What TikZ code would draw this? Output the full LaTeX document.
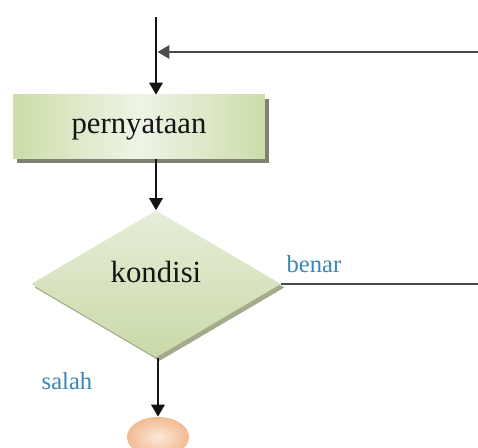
\documentclass[tikz,border=0pt]{standalone}
\usepackage{fontspec}
\setmainfont{Liberation Serif}
\usepackage{xcolor}
\usetikzlibrary{arrows.meta,positioning,calc,shapes.geometric,shadows}
\definecolor{flowInk}{HTML}{141414}
\definecolor{flowLine}{HTML}{4A4A4A}
\definecolor{flowBox}{HTML}{CCDDAA}
\definecolor{flowBoxLight}{HTML}{EEF4E6}
\definecolor{flowShade}{HTML}{6A6A5E}
\definecolor{flowDiamond}{HTML}{C9D9A8}
\definecolor{flowDiamondLight}{HTML}{E6EED8}
\definecolor{flowDiamondShade}{HTML}{99A27E}
\definecolor{flowEnd}{HTML}{F2BA92}
\definecolor{flowEndLight}{HTML}{FCE8DA}
\definecolor{flowLabel}{HTML}{3A86B6}
\tikzset{
  % one pixel of the sketch is one unit; y grows downwards
  flow/base/.style={
    font=\rmfamily\fontsize{17.5pt}{20pt}\selectfont,
    text=flowInk,
    >={Triangle[length=2.4mm,width=2.7mm]}
  },
  flow/process/.style={
    rectangle,
    left color=flowBox,
    right color=flowBox,
    middle color=flowBoxLight,
    minimum width=5.04cm,
    minimum height=1.28cm,
    inner sep=0pt,
    drop shadow={shadow xshift=.08cm,shadow yshift=-.08cm,fill=flowShade,opacity=.85}
  },
  flow/decision/.style={
    diamond,
    top color=flowDiamondLight,
    bottom color=flowDiamond,
    minimum width=5.0cm,
    minimum height=2.94cm,
    inner sep=0pt,
    drop shadow={shadow xshift=.07cm,shadow yshift=-.07cm,fill=flowDiamondShade,opacity=.9}
  },
  flow/terminal/.style={
    ellipse,
    inner color=flowEndLight,
    outer color=flowEnd,
    minimum width=1.24cm,
    minimum height=.8cm,
    inner sep=0pt
  },
  flow/text/.style={
    font=\rmfamily\fontsize{17.5pt}{20pt}\selectfont,
    text=flowInk,
    inner sep=0pt
  },
  flow/branch label/.style={
    font=\rmfamily\fontsize{14pt}{16pt}\selectfont,
    text=flowLabel,
    inner sep=0pt
  },
  flow/arrow/.style={
    ->,
    draw=flowInk,
    line width=1.1pt
  },
  flow/return/.style={
    draw=flowLine,
    line width=1.1pt
  }
}
\begin{document}
\begin{tikzpicture}[flow/base,x=.02cm,y=-.02cm]
  \clip (0,0) rectangle (478,448);
  \coordinate (entry) at (156,17);
  \coordinate (loopIn) at (478,52);
  \coordinate (exitTrue) at (478,284);

  \node[flow/process] (stmt) at (139,127) {};
  \node[flow/text] (stmtText) at (139,128) {pernyataan};
  \node[flow/decision] (cond) at (156,284) {};
  \node[flow/text] (condText) at (156,272) {kondisi};
  \node[flow/terminal] (stop) at (158,437) {};

  \node[flow/branch label] (trueLabel) at (314,264) {benar};
  \node[flow/branch label] (falseLabel) at (67,381) {salah};

  % loop back from the right enters the main line above the statement
  \draw[flow/arrow] (entry) -- (entry |- stmt.north);
  \draw[flow/return,->] (loopIn) -- ($(loopIn -| entry)+(1.5,0)$);
  \draw[flow/arrow] (stmt.south -| entry) -- (cond.north);
  \draw[flow/return] (cond.east) -- (exitTrue);
  \draw[flow/arrow] (cond.south -| stop) -- (stop.north);
\end{tikzpicture}
\end{document}
